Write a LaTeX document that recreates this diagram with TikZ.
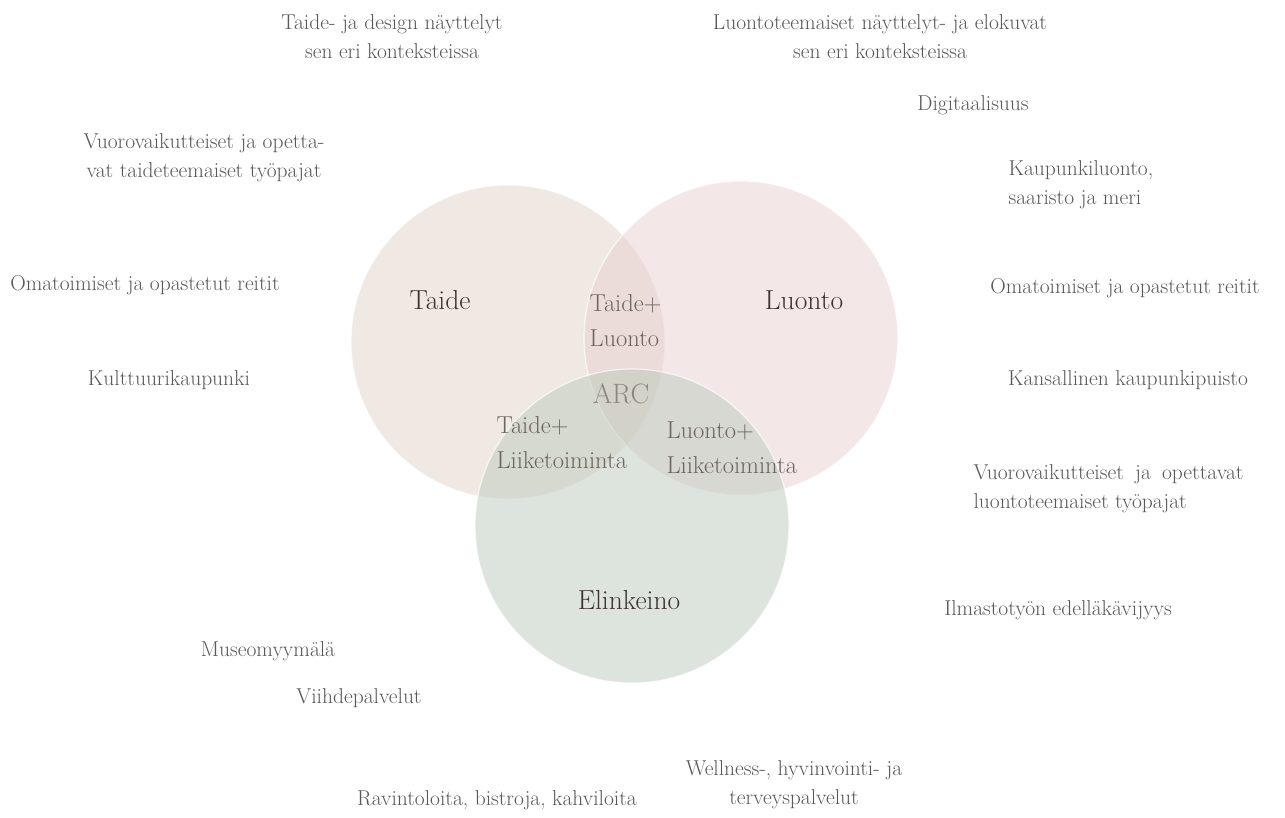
\documentclass[tikz,border=0pt]{standalone}
\usepackage{fontspec}
\definecolor{taidefill}{RGB}{225,211,199}
\definecolor{luontofill}{RGB}{232,208,208}
\definecolor{elinfill}{RGB}{187,201,187}
\definecolor{outergray}{RGB}{88,86,86}
\definecolor{setdark}{RGB}{58,50,48}
\definecolor{mixgray}{RGB}{108,100,96}
\definecolor{arcgray}{RGB}{140,134,128}
\tikzset{
  venn/.style={circle, minimum size=314pt, inner sep=0pt, fill=#1, fill opacity=.5,
    draw=white, draw opacity=.7, line width=1.2pt},
  outer/.style={text=outergray, font=\fontsize{21.5}{29}\selectfont, align=center},
  setlabel/.style={text=setdark, font=\fontsize{27.5}{30}\selectfont},
  mixlabel/.style={text=mixgray, font=\fontsize{24.5}{35}\selectfont, align=left, anchor=west},
}
\begin{document}
\begin{tikzpicture}[x=1pt, y=-1pt]
  \useasboundingbox (0,0) rectangle (1285,817);
  % the three sets
  \node[venn=taidefill] (taide) at (508,342) {};
  \node[venn=luontofill] (luonto) at (741,338) {};
  \node[venn=elinfill] (elinkeino) at (632,526) {};
  % set names
  \node[setlabel] (taidelbl) at (440,300) {Taide};
  \node[setlabel] (luontolbl) at (804,300) {Luonto};
  \node[setlabel] (elinlbl) at (629,600) {Elinkeino};
  % overlaps
  \node[mixlabel] (tailuo) at (586,321) {Taide+\\Luonto};
  \node[mixlabel] (tailiik) at (493,443) {Taide+\\Liiketoiminta};
  \node[mixlabel] (luoliik) at (663,448) {Luonto+\\Liiketoiminta};
  \node[text=arcgray, font=\fontsize{28}{30}\selectfont] (arc) at (621,394) {ARC};
  % around the diagram, left side
  \node[outer] (taidenay) at (392,37) {Taide- ja design näyttelyt\\sen eri konteksteissa};
  \node[outer] (tyopajal) at (204,158) {Vuorovaikutteiset ja opetta-\\vat taideteemaiset työpajat};
  \node[outer] (omatoimil) at (145,285) {Omatoimiset ja opastetut reitit};
  \node[outer] (kulttuuri) at (169,380) {Kulttuurikaupunki};
  \node[outer] (museo) at (268,651) {Museomyymälä};
  \node[outer] (viihde) at (359,698) {Viihdepalvelut};
  \node[outer] (ravintola) at (497,800) {Ravintoloita, bistroja, kahviloita};
  \node[outer] (wellness) at (794,785) {Wellness-, hyvinvointi- ja\\terveyspalvelut};
  % right side
  \node[outer] (luontonay) at (880,37) {Luontoteemaiset näyttelyt- ja elokuvat\\sen eri konteksteissa};
  \node[outer] (digi) at (973,105) {Digitaalisuus};
  \node[outer, align=left, anchor=west] (kaupunki) at (1005,185) {Kaupunkiluonto,\\saaristo ja meri};
  \node[outer] (omatoimir) at (1125,288) {Omatoimiset ja opastetut reitit};
  \node[outer] (kansallinen) at (1128,380) {Kansallinen kaupunkipuisto};
  \node[outer, align=left, anchor=west] (tyopajar) at (970,489)
    {\makebox[270pt][s]{Vuorovaikutteiset ja opettavat}\\luontoteemaiset työpajat};
  \node[outer] (ilmasto) at (1058,610) {Ilmastotyön edelläkävijyys};
\end{tikzpicture}
\end{document}
